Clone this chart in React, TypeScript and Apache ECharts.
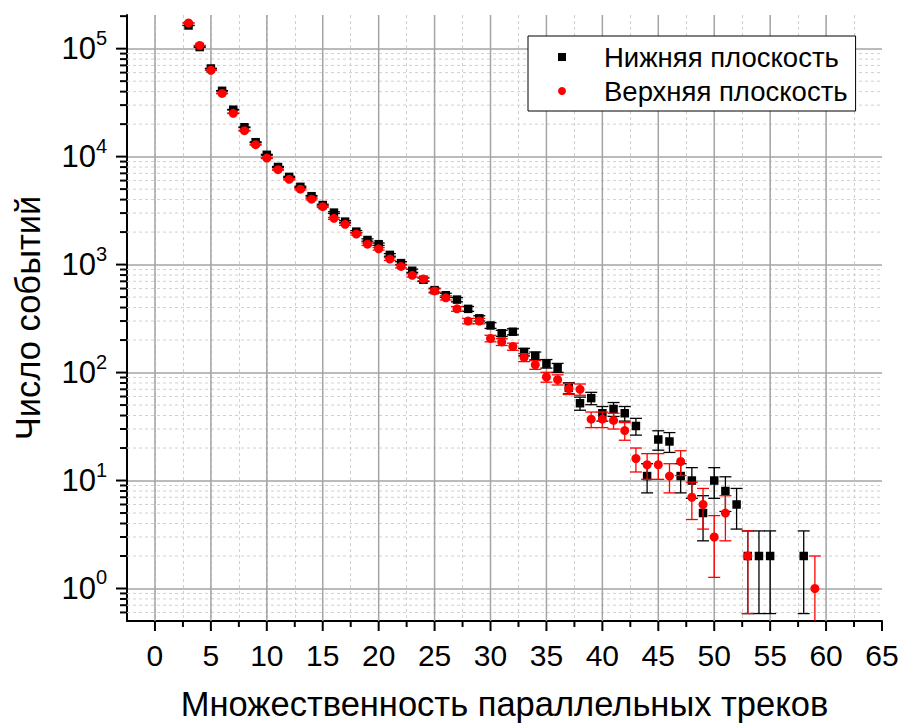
import React, { useEffect, useRef } from 'react';
import * as echarts from 'echarts';

// Multiplicity of parallel tracks (x)
const multiplicity = [
  3, 4, 5, 6, 7, 8, 9, 10, 11, 12, 13, 14, 15, 16, 17, 18, 19, 20, 21, 22,
  23, 24, 25, 26, 27, 28, 29, 30, 31, 32, 33, 34, 35, 36, 37, 38, 39, 40, 41,
  42, 43, 44, 45, 46, 47, 48, 49, 50, 51, 52, 53, 54, 55, 56, 57, 58, 59,
];

// Нижняя плоскость (black squares)
const lowerPlane: (number | null)[] = [
  164000, 103500, 65500, 40700, 27200, 18700, 13600, 10400, 8020, 6490, 5250,
  4300, 3560, 3030, 2500, 2020, 1690, 1545, 1230, 1032, 877, 724, 580, 520,
  474, 389, 318, 273, 231, 239, 155, 143, 121, 111, 72, 52, 58, 42, 46, 42, 32,
  11, 24, 23, 11, 10, 5, 10, 8, 6, 2, 2, 2, null, null, 2, null,
];

// Верхняя плоскость (red circles)
const upperPlane: (number | null)[] = [
  173000, 107000, 63100, 38500, 25200, 17400, 12900, 9700, 7570, 6160, 4990,
  4040, 3440, 2680, 2360, 1920, 1545, 1400, 1125, 962, 795, 735, 570, 492, 389,
  300, 300, 207, 192, 174, 138, 118, 91, 86, 71, 70, 37, 37, 36, 29, 16, 14,
  14, 11, 15, 7, 6, 3, 5, null, 2, null, null, null, null, null, 1,
];

const xMajorTicks = [0, 5, 10, 15, 20, 25, 30, 35, 40, 45, 50, 55, 60, 65];
const xMinorTicks = [2.5, 7.5, 12.5, 17.5, 22.5, 27.5, 32.5, 37.5, 42.5, 47.5, 52.5, 57.5, 62.5];
const yDecadeTicks = [1, 10, 100, 1000, 10000, 100000];

const X_MIN = -2.5;
const X_MAX = 65;
const Y_MIN = 0.5;
const Y_MAX = 205000;

const FONT = "'Liberation Sans', Arial, Helvetica, sans-serif";
const MAJOR_GRID = '#a4a4a4';
const MINOR_GRID = '#d0d0d0';

// minor log ticks 2..9 x 10^n within the axis range
const yMinorTicks: number[] = [];
for (let e = -1; e <= 5; e++) {
  for (let m = 2; m <= 9; m++) {
    const v = +(m * Math.pow(10, e)).toPrecision(6);
    if (v > Y_MIN && v <= Y_MAX) yMinorTicks.push(v);
  }
}

function points(vals: (number | null)[]) {
  const out: number[][] = [];
  multiplicity.forEach((x, i) => {
    const v = vals[i];
    if (v != null) out.push([x, v]);
  });
  return out;
}

// Poisson error bars (sqrt N), as drawn in the figure
function errorBars(vals: (number | null)[]) {
  const out: number[][] = [];
  multiplicity.forEach((x, i) => {
    const v = vals[i];
    if (v != null) {
      const s = Math.sqrt(v);
      out.push([x, Math.max(v - s, 1e-3), v + s]);
    }
  });
  return out;
}

function errRender(color: string) {
  return (params: any, api: any) => {
    const x = api.value(0);
    const lo = api.coord([x, api.value(1)]);
    const hi = api.coord([x, api.value(2)]);
    const w = 6;
    const style = { stroke: color, lineWidth: 1.3 };
    return {
      type: 'group',
      children: [
        { type: 'line', shape: { x1: hi[0], y1: hi[1], x2: lo[0], y2: lo[1] }, style },
        { type: 'line', shape: { x1: hi[0] - w, y1: hi[1], x2: hi[0] + w, y2: hi[1] }, style },
        { type: 'line', shape: { x1: lo[0] - w, y1: lo[1], x2: lo[0] + w, y2: lo[1] }, style },
      ],
    };
  };
}

export default function App() {
  const ref = useRef<HTMLDivElement>(null);

  useEffect(() => {
    if (!ref.current) return;
    const chart = echarts.init(ref.current, null, { renderer: 'svg' });

    const xTickSeries = (vals: number[], len: number, grid: boolean) => ({
      type: 'custom',
      name: 'xticks',
      silent: true,
      clip: false,
      z: 1,
      data: vals.map((v) => [v, Y_MIN]),
      renderItem: (params: any, api: any) => {
        const x = api.value(0);
        const b = api.coord([x, Y_MIN]);
        const t = api.coord([x, Y_MAX]);
        const children: any[] = [];
        if (grid && x < X_MAX) {
          children.push({
            type: 'line',
            shape: { x1: b[0], y1: b[1], x2: t[0], y2: t[1] },
            style: { stroke: MAJOR_GRID, lineWidth: 1.5 },
          });
        }
        children.push({
          type: 'line',
          shape: { x1: b[0], y1: b[1], x2: b[0], y2: b[1] + len },
          style: { stroke: '#000', lineWidth: 2 },
        });
        return { type: 'group', children };
      },
    });

    const yTickSeries = (vals: number[], len: number, grid: boolean) => ({
      type: 'custom',
      name: 'yticks',
      silent: true,
      clip: false,
      z: 1,
      data: vals.map((v) => [X_MIN, v]),
      renderItem: (params: any, api: any) => {
        const y = api.value(1);
        const l = api.coord([X_MIN, y]);
        const r = api.coord([X_MAX, y]);
        const children: any[] = [];
        if (grid && y < 200000) {
          children.push({
            type: 'line',
            shape: { x1: l[0], y1: l[1], x2: r[0], y2: r[1] },
            style: { stroke: MINOR_GRID, lineWidth: 1, lineDash: [3, 3] },
          });
        }
        children.push({
          type: 'line',
          shape: { x1: l[0] - len, y1: l[1], x2: l[0], y2: l[1] },
          style: { stroke: '#000', lineWidth: 2 },
        });
        return { type: 'group', children };
      },
    });

    chart.setOption({
      animation: false,
      backgroundColor: '#ffffff',
      textStyle: { fontFamily: FONT },
      grid: { left: 127, right: 22, top: 15, bottom: 101, containLabel: false },
      legend: {
        orient: 'vertical',
        left: 528,
        top: 36,
        backgroundColor: '#ffffff',
        borderColor: '#000000',
        borderWidth: 1,
        padding: [6, 8, 5, 30],
        itemGap: 4,
        itemWidth: 8,
        itemHeight: 8,
        textStyle: {
          fontFamily: FONT,
          fontSize: 27.5,
          color: '#000',
          lineHeight: 30,
          padding: [0, 0, 0, 33],
        },
        data: [
          { name: 'Нижняя плоскость', icon: 'rect' },
          { name: 'Верхняя плоскость', icon: 'circle' },
        ],
      },
      xAxis: {
        type: 'value',
        min: X_MIN,
        max: X_MAX,
        interval: 2.5,
        name: 'Множественность параллельных треков',
        nameLocation: 'middle',
        nameGap: 65,
        nameTextStyle: { fontFamily: FONT, fontSize: 34.5, color: '#000' },
        axisLine: { show: true, onZero: false, lineStyle: { color: '#000', width: 2 } },
        axisTick: { show: false },
        axisLabel: {
          fontFamily: FONT,
          fontSize: 30,
          color: '#000',
          margin: 19,
          hideOverlap: false,
          showMinLabel: true,
          showMaxLabel: true,
          formatter: (v: number) => (Math.abs(v % 5) < 1e-9 ? String(v) : ''),
        },
        splitLine: {
          show: true,
          showMinLine: false,
          showMaxLine: false,
          lineStyle: { color: MINOR_GRID, width: 1, type: [3, 3] },
        },
      },
      yAxis: {
        type: 'log',
        logBase: 10,
        min: Y_MIN,
        max: Y_MAX,
        name: 'Число событий',
        nameLocation: 'middle',
        nameGap: 82,
        nameRotate: 90,
        nameTextStyle: { fontFamily: FONT, fontSize: 34.5, color: '#000' },
        axisLine: { show: true, onZero: false, lineStyle: { color: '#000', width: 2 } },
        axisTick: { show: false },
        axisLabel: {
          margin: 20,
          hideOverlap: false,
          formatter: (v: number) => {
            const lg = Math.log10(v);
            const e = Math.round(lg);
            if (Math.abs(lg - e) > 1e-6) return '';
            return `{b|10}{s|${e}}`;
          },
          rich: {
            b: { fontFamily: FONT, fontSize: 31, color: '#000' },
            s: { fontFamily: FONT, fontSize: 20, color: '#000', padding: [0, 0, 22, 0] },
          },
        },
        splitLine: {
          show: true,
          showMinLine: false,
          showMaxLine: false,
          lineStyle: { color: MAJOR_GRID, width: 1.5 },
        },
      },
      series: [
        yTickSeries(yMinorTicks, 7, true),
        yTickSeries(yDecadeTicks, 11, false),
        xTickSeries(xMinorTicks, 6, false),
        xTickSeries(xMajorTicks, 10, true),
        {
          type: 'custom',
          name: 'err-lower',
          silent: true,
          clip: true,
          z: 3,
          data: errorBars(lowerPlane),
          renderItem: errRender('#000000'),
        },
        {
          type: 'scatter',
          name: 'Нижняя плоскость',
          symbol: 'rect',
          symbolSize: 8.5,
          z: 4,
          itemStyle: { color: '#000000', opacity: 1 },
          data: points(lowerPlane),
        },
        {
          type: 'custom',
          name: 'err-upper',
          silent: true,
          clip: true,
          z: 5,
          data: errorBars(upperPlane),
          renderItem: errRender('#ff0000'),
        },
        {
          type: 'scatter',
          name: 'Верхняя плоскость',
          symbol: 'circle',
          symbolSize: 9,
          z: 6,
          itemStyle: { color: '#ff0000', opacity: 1 },
          data: points(upperPlane),
        },
      ],
    });

    return () => chart.dispose();
  }, []);

  return <div ref={ref} style={{ width: 904, height: 726, position: 'absolute', left: 0, top: 0 }} />;
}
